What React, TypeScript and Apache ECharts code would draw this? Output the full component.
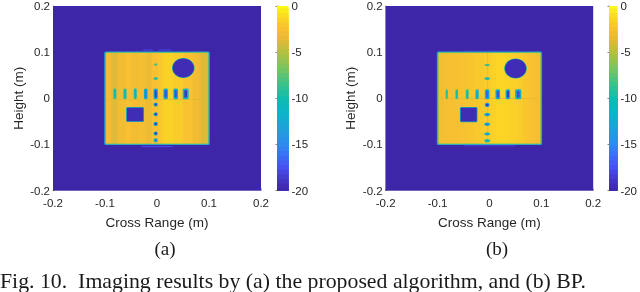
import React, { useEffect, useRef } from "react";
import * as echarts from "echarts";

// Each cell: [x0, x1, y0, y1, dB, shape] in metres; shape 0 = block, 1 = ellipse
type Cell = number[];

const colorbarLevels = [
  -20, -19.5, -19, -18.5, -18, -17.5, -17, -16.5, -16, -15.5, -15, -14.5, -14, -13.5, -13, -12.5, -12, -11.5, -11,
  -10.5, -10, -9.5, -9, -8.5, -8, -7.5, -7, -6.5, -6, -5.5, -5, -4.5, -4, -3.5, -3, -2.5, -2, -1.5, -1, -0.5, 0,
];

// Column levels across the plate: [left edge, right edge, dB]
const stripesA = [
  [-0.098, -0.09, -2.7], [-0.09, -0.086, -3.3], [-0.086, -0.078, -3.9], [-0.078, -0.074, -3.4], [-0.074, -0.06, -2.9],
  [-0.06, -0.05, -2.4], [-0.05, -0.035, -2.8], [-0.035, -0.022, -2.6], [-0.022, -0.01, -3.2], [-0.01, 0.003, -2.4],
  [0.003, 0.012, -2.0], [0.012, 0.031, -1.5], [0.031, 0.05, -1.8], [0.05, 0.068, -2.3],
  [0.068, 0.08, -2.8], [0.08, 0.085, -3.3], [0.085, 0.098, -3.9],
];
const stripesB = [
  [-0.098, -0.089, -2.7], [-0.089, -0.08, -2.6], [-0.08, -0.07, -2.5], [-0.07, -0.06, -2.45], [-0.06, -0.05, -2.35],
  [-0.05, -0.04, -2.25], [-0.04, -0.03, -2.15], [-0.03, -0.02, -2.05], [-0.02, -0.012, -1.95], [-0.012, -0.004, -1.85],
  [-0.004, 0.004, -1.7], [0.004, 0.012, -1.55], [0.012, 0.024, -1.4], [0.024, 0.035, -1.35], [0.035, 0.045, -1.5],
  [0.045, 0.055, -1.65], [0.055, 0.065, -1.85], [0.065, 0.075, -2.1], [0.075, 0.087, -2.35], [0.087, 0.098, -2.6],
];

// Horizontal row of targets: [centre x, half width, edge dB, core dB]
const rowTargetsA = [
  [-0.081, 0.0027, -9.5, -10.5], [-0.0615, 0.003, -9.5, -11], [-0.0417, 0.0028, -10, -12], [-0.0217, 0.0035, -12, -16],
  [-0.0025, 0.0042, -12.5, -19], [0.0167, 0.0045, -12, -18], [0.036, 0.0045, -12, -18], [0.0552, 0.0058, -11.5, -19],
];
const rowTargetsB = [
  [-0.0823, 0.0022, -8, -9.5], [-0.0631, 0.0025, -8.5, -10], [-0.0429, 0.0028, -9, -11], [-0.0238, 0.0032, -10.5, -13],
  [-0.0044, 0.0045, -12, -17], [0.0161, 0.0045, -12, -18], [0.0355, 0.0045, -12, -19], [0.0554, 0.006, -11, -18],
];

// Vertical column of targets: [centre y, half width, half height, edge dB, core dB]
const colTargetsA = [
  [0.073, 0.0035, 0.0028, -7, -9], [0.0426, 0.0045, 0.003, -9, -10.5], [-0.0136, 0.0042, 0.0045, -12, -19],
  [-0.0346, 0.0042, 0.0045, -12, -19], [-0.0556, 0.0042, 0.0045, -12, -19], [-0.0764, 0.0042, 0.0045, -12, -19],
  [-0.091, 0.0042, 0.0045, -11, -16],
];
const colTargetsB = [
  [0.072, 0.0055, 0.0025, -8, -10], [0.0426, 0.0055, 0.0028, -10, -11], [-0.0145, 0.0048, 0.0045, -13, -19],
  [-0.0355, 0.0058, 0.0038, -11, -16], [-0.0565, 0.0058, 0.0038, -11, -16], [-0.0775, 0.0058, 0.0032, -11, -15],
  [-0.092, 0.0058, 0.0038, -9, -12],
];

// Circular hole: [centre x, centre y, radius x, radius y]; square hole: [x0, x1, y0, y1]
const circleA = [0.0506, 0.0656, 0.0205, 0.0205];
const circleB = [0.0503, 0.0645, 0.0205, 0.0205];
const squareA = [-0.058, -0.0263, -0.0498, -0.0205];
const squareB = [-0.0555, -0.0245, -0.0505, -0.0205];

// Faint sidelobes beyond the plate: [x0, x1, y0, y1, dB]
const lobesA = [
  [-0.027, -0.008, 0.1035, 0.1055, -17.5], [0.003, 0.028, 0.1035, 0.1055, -17.5],
  [-0.03, 0.03, -0.1055, -0.1035, -17.5],
];
const lobesB = [
  [-0.05, 0.05, 0.1015, 0.1035, -18.8], [-0.05, 0.05, -0.1045, -0.1015, -18.8],
];
// Cross-shaped seams on the plate: [x0, x1, y0, y1, dB]
const seamsA = [[-0.098, 0.098, -0.0035, -0.0015, -3.8]];
const seamsB = [[-0.098, 0.098, -0.0015, 0.0005, -3.4], [-0.0042, -0.0024, 0.012, 0.098, -3.4], [-0.0042, -0.0024, -0.098, -0.003, -3.4]];

const rowBand = { a: [-0.002, 0.021], b: [-0.002, 0.0195] };
const stripeOverlap = 0.002;

const parula: [number, string][] = [
  [0, "#3e26a8"], [0.06, "#4436c6"], [0.125, "#4750f0"], [0.2, "#3a74f6"], [0.25, "#2e8aee"], [0.33, "#209fdc"],
  [0.42, "#0cb4c8"], [0.5, "#0fbcb0"], [0.58, "#3cc288"], [0.66, "#78c460"], [0.75, "#b4c040"], [0.82, "#e8b835"],
  [0.88, "#f8c032"], [0.94, "#fbd823"], [1, "#f9fb15"],
];

function hex(c: string) {
  return [1, 3, 5].map((i) => parseInt(c.slice(i, i + 2), 16));
}
function dbColor(db: number) {
  const t = Math.max(0, Math.min(1, (db + 20) / 20));
  for (let i = 1; i < parula.length; i++) {
    if (t <= parula[i][0]) {
      const [t0, c0] = parula[i - 1];
      const [t1, c1] = parula[i];
      const f = (t - t0) / (t1 - t0);
      const a = hex(c0);
      const b = hex(c1);
      return `rgb(${a.map((v, k) => Math.round(v + (b[k] - v) * f)).join(",")})`;
    }
  }
  return parula[parula.length - 1][1];
}

function buildCells(
  stripes: number[][], rowT: number[][], colT: number[][], circle: number[], square: number[],
  lobes: number[][], seams: number[][], band: number[], colX: number,
): Cell[] {
  const cells: Cell[] = [];
  cells.push([-0.2, 0.2, -0.2, 0.2, -20, 0]);
  lobes.forEach((l) => cells.push([...l, 0]));
  cells.push([-0.1015, 0.1015, -0.1015, 0.1015, -13, 2]);
  cells.push([-0.0995, 0.0995, -0.0995, 0.0995, -7, 2]);
  stripes.forEach((s, i) =>
    cells.push([s[0], i === stripes.length - 1 ? s[1] : s[1] + stripeOverlap, -0.098, 0.098, s[2], 0]),
  );
  seams.forEach((s) => cells.push([...s, 0]));
  cells.push([circle[0] - circle[2] - 0.0012, circle[0] + circle[2] + 0.0012, circle[1] - circle[3] - 0.0012, circle[1] + circle[3] + 0.0012, -10, 1]);
  cells.push([circle[0] - circle[2], circle[0] + circle[2], circle[1] - circle[3], circle[1] + circle[3], -19.5, 1]);
  cells.push([square[0] - 0.0015, square[1] + 0.0015, square[2] - 0.0015, square[3] + 0.0015, -11, 2]);
  cells.push([square[0], square[1], square[2], square[3], -19.5, 0]);
  rowT.forEach((r) => {
    cells.push([r[0] - r[1], r[0] + r[1], band[0], band[1], r[2], 2]);
    cells.push([r[0] - r[1] * 0.45, r[0] + r[1] * 0.45, band[0] + 0.003, band[1] - 0.003, r[3], 2]);
  });
  colT.forEach((c) => {
    cells.push([colX - c[1], colX + c[1], c[0] - c[2], c[0] + c[2], c[3], 1]);
    cells.push([colX - c[1] * 0.55, colX + c[1] * 0.55, c[0] - c[2] * 0.55, c[0] + c[2] * 0.55, c[4], 1]);
  });
  return cells;
}

const renderCell = (_: any, api: any) => {
  const p0 = api.coord([api.value(0), api.value(3)]);
  const p1 = api.coord([api.value(1), api.value(2)]);
  const w = p1[0] - p0[0];
  const h = p1[1] - p0[1];
  const kind = api.value(5);
  const fill = dbColor(api.value(4));
  if (kind === 1) {
    return {
      type: "ellipse",
      shape: { cx: p0[0] + w / 2, cy: p0[1] + h / 2, rx: w / 2, ry: h / 2 },
      style: { fill },
    };
  }
  return {
    type: "rect",
    shape: { x: p0[0], y: p0[1], width: w, height: h, r: kind === 2 ? 1.5 : 0 },
    style: { fill },
  };
};

const font = "Liberation Sans, Arial, sans-serif";
const ink = "#262626";
const fmt = (v: number) => String(+v.toFixed(1));

function heatAxis(gridIndex: number, isX: boolean) {
  return {
    type: "value",
    gridIndex,
    min: -0.2,
    max: 0.2,
    interval: 0.1,
    name: isX ? "Cross Range (m)" : "Height (m)",
    nameLocation: "middle",
    nameGap: isX ? 25 : 28,
    nameTextStyle: { fontFamily: font, fontSize: 13.5, color: ink },
    axisLine: { show: true, onZero: false, lineStyle: { color: "#55507f", width: 0.5 } },
    axisTick: { show: true, inside: true, length: 2, lineStyle: { color: "#55507f", width: 0.5 } },
    axisLabel: { fontFamily: font, fontSize: 11.5, color: ink, margin: isX ? 6 : 3, formatter: fmt },
    splitLine: { show: false },
  };
}

function barAxisY(gridIndex: number) {
  return {
    type: "value",
    gridIndex,
    position: "right",
    min: -20,
    max: 0,
    interval: 5,
    axisLine: { show: true, lineStyle: { color: "#333", width: 0.6 } },
    axisTick: { show: true, inside: true, length: 1.5, lineStyle: { color: "#333", width: 0.6 } },
    axisLabel: { fontFamily: font, fontSize: 11.5, color: ink, margin: 3 },
    splitLine: { show: false },
  };
}

export default function App() {
  const ref = useRef<HTMLDivElement>(null);
  useEffect(() => {
    const chart = echarts.init(ref.current!, undefined, { renderer: "svg" });
    const cellsA = buildCells(stripesA, rowTargetsA, colTargetsA, circleA, squareA, lobesA, seamsA, rowBand.a, -0.0025);
    const cellsB = buildCells(stripesB, rowTargetsB, colTargetsB, circleB, squareB, lobesB, seamsB, rowBand.b, -0.0044);
    const barCells = colorbarLevels.map((v) => [0, 1, -20, Math.min(0, v + 0.25), v, 0]).reverse();
    const dims = { x: [0, 1], y: [2, 3] };
    chart.setOption({
      animation: false,
      backgroundColor: "#fff",
      grid: [
        { left: 53, width: 208, top: 5.7, height: 184.8 },
        { left: 277, width: 11.5, top: 5.7, height: 184.8 },
        { left: 385.7, width: 207.5, top: 5.7, height: 184.8 },
        { left: 609, width: 11.5, top: 5.7, height: 184.8 },
      ],
      xAxis: [
        heatAxis(0, true),
        { type: "value", gridIndex: 1, min: 0, max: 1, show: false },
        heatAxis(2, true),
        { type: "value", gridIndex: 3, min: 0, max: 1, show: false },
      ],
      yAxis: [heatAxis(0, false), barAxisY(1), heatAxis(2, false), barAxisY(3)],
      series: [
        { type: "custom", xAxisIndex: 0, yAxisIndex: 0, data: cellsA, encode: dims, renderItem: renderCell, silent: true },
        { type: "custom", xAxisIndex: 1, yAxisIndex: 1, data: barCells, encode: dims, renderItem: renderCell, silent: true },
        { type: "custom", xAxisIndex: 2, yAxisIndex: 2, data: cellsB, encode: dims, renderItem: renderCell, silent: true },
        { type: "custom", xAxisIndex: 3, yAxisIndex: 3, data: barCells, encode: dims, renderItem: renderCell, silent: true },
      ],
      graphic: [
        { type: "text", x: 165, y: 239, style: { text: "(a)", font: "19px 'Liberation Serif', serif", fill: "#1a1a1a", textAlign: "center" } },
        { type: "text", x: 497, y: 239, style: { text: "(b)", font: "19px 'Liberation Serif', serif", fill: "#1a1a1a", textAlign: "center" } },
        { type: "text", x: 0, y: 270, style: { text: "Fig. 10.  Imaging results by (a) the proposed algorithm, and (b) BP.", font: "21.8px 'Liberation Serif', serif", fill: "#1a1a1a" } },
      ],
    });
    return () => chart.dispose();
  }, []);
  return (
    <div
      ref={ref}
      style={{ position: "fixed", left: 0, top: 0, width: 640, height: 292, filter: "blur(0.5px)" }}
    />
  );
}
